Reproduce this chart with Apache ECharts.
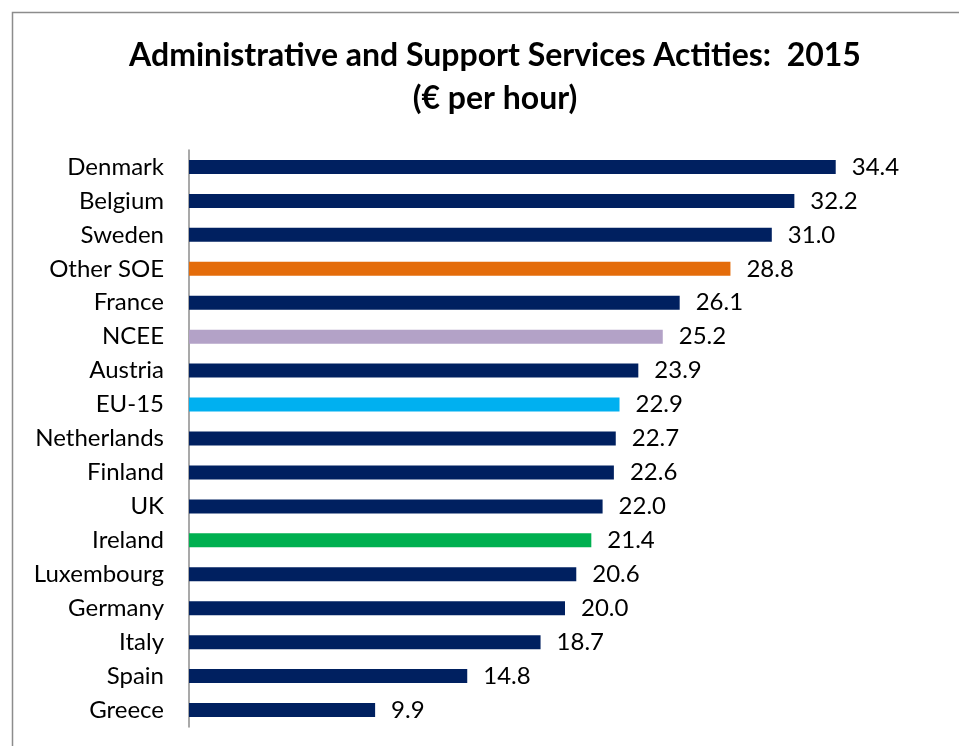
<!DOCTYPE html>
<html>
<head>
<meta charset="utf-8">
<script src="https://cdn.jsdelivr.net/npm/echarts@6/dist/echarts.min.js"></script>
<style>
  html, body { margin: 0; padding: 0; background: #fff; }
  #chart { width: 959px; height: 746px; }
</style>
</head>
<body>
<div id="chart"></div>
<script>
// Hourly labour cost, administrative and support services, 2015
const countries = ['Denmark', 'Belgium', 'Sweden', 'Other SOE', 'France', 'NCEE', 'Austria', 'EU-15',
  'Netherlands', 'Finland', 'UK', 'Ireland', 'Luxembourg', 'Germany', 'Italy', 'Spain', 'Greece'];
const costPerHour = [34.4, 32.2, 31.0, 28.8, 26.1, 25.2, 23.9, 22.9, 22.7, 22.6, 22.0, 21.4, 20.6, 20.0, 18.7, 14.8, 9.9];

const NAVY = '#002060';
const highlight = {
  'Other SOE': '#E46C0A',
  'NCEE': '#B3A2C7',
  'EU-15': '#00B0F0',
  'Ireland': '#00B050'
};

const FONT = 'Lato, "Open Sans", sans-serif';

const chart = echarts.init(document.getElementById('chart'));
chart.setOption({
  animation: false,
  backgroundColor: '#fff',
  title: {
    text: 'Administrative and Support Services Actities:  2015\n(€ per hour)',
    left: 490,
    textAlign: 'center',
    top: 29,
    textStyle: {
      fontFamily: FONT,
      fontWeight: 'bold',
      fontSize: 32,
      lineHeight: 43,
      color: '#000'
    }
  },
  graphic: [{
    type: 'rect',
    shape: { x: 12.5, y: 12.5, width: 980, height: 760 },
    style: { fill: null, stroke: '#8c8c8c', lineWidth: 1.5 },
    silent: true
  }],
  grid: { left: 189, right: 18, top: 150, bottom: 19 },
  xAxis: {
    type: 'value',
    min: 0,
    max: 40,
    show: false
  },
  yAxis: {
    type: 'category',
    inverse: true,
    data: countries,
    axisLine: { lineStyle: { color: '#8c8c8c', width: 1.5 } },
    axisTick: { length: 7, lineStyle: { color: '#8c8c8c', width: 1.5 } },
    axisLabel: {
      margin: 25,
      fontFamily: FONT,
      fontSize: 24,
      color: '#000'
    }
  },
  series: [{
    type: 'bar',
    barWidth: 14,
    data: countries.map((c, i) => ({
      value: costPerHour[i],
      itemStyle: { color: highlight[c] || NAVY }
    })),
    label: {
      show: true,
      position: 'right',
      distance: 16,
      fontFamily: FONT,
      fontSize: 24,
      color: '#000',
      formatter: p => p.value.toFixed(1)
    }
  }]
});
</script>
</body>
</html>
